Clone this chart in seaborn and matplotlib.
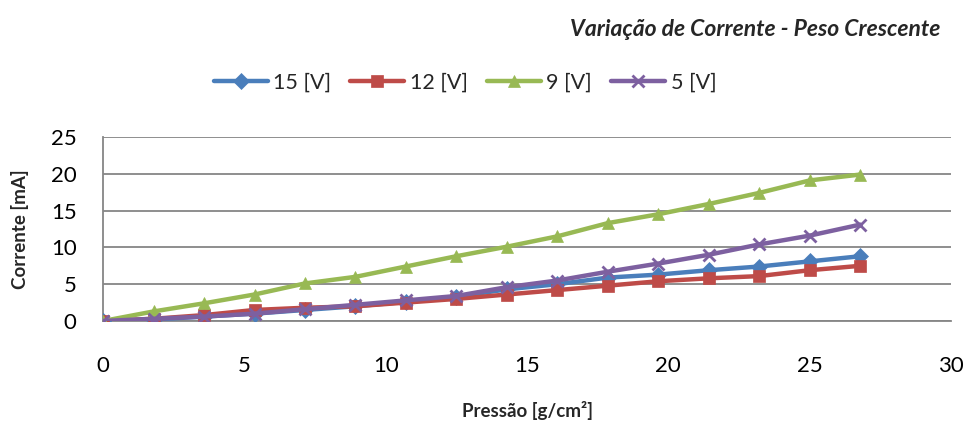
import numpy as np
import pandas as pd
import seaborn as sns
import matplotlib
matplotlib.use("Agg")
import matplotlib.pyplot as plt

pressao = [0, 1.79, 3.57, 5.36, 7.14, 8.93, 10.71, 12.5, 14.29, 16.07, 17.86, 19.64, 21.43, 23.21, 25.0, 26.79]
v15 = [0, 0.2, 0.6, 1.0, 1.5, 2.0, 2.6, 3.3, 4.3, 5.0, 5.9, 6.3, 6.9, 7.4, 8.1, 8.8]
v12 = [0, 0.3, 0.8, 1.5, 1.8, 2.0, 2.5, 3.0, 3.6, 4.2, 4.8, 5.4, 5.8, 6.1, 6.9, 7.5]
v9 = [0, 1.3, 2.4, 3.6, 5.1, 6.0, 7.4, 8.8, 10.1, 11.5, 13.3, 14.5, 15.9, 17.4, 19.1, 19.9]
v5 = [0, 0.3, 0.6, 1.0, 1.6, 2.2, 2.8, 3.4, 4.6, 5.5, 6.7, 7.8, 9.0, 10.4, 11.6, 13.1]

series = ["15 [V]", "12 [V]", "9 [V]", "5 [V]"]
values = [v15, v12, v9, v5]
colors = ["#4A7EBB", "#BE4B48", "#98B954", "#7D60A0"]
markers = ["D", "s", "^", "x"]

title = "Variação de Corrente - Peso Crescente"
xlabel = "Pressão [g/cm²]"
ylabel = "Corrente [mA]"

rows = []
for s, v in zip(series, values):
    for x, y in zip(pressao, v):
        rows.append({"Pressão": x, "Corrente": y, "Série": s})
df = pd.DataFrame(rows)

sns.set_style("white")
plt.rcParams["font.family"] = ["Lato", "DejaVu Sans"]

fig = plt.figure(figsize=(9.68, 4.21), dpi=100)
ax = fig.add_axes([103 / 968, 1 - 321 / 421, (951 - 103) / 968, (321 - 137) / 421])

for s, c, m in zip(series, colors, markers):
    sub = df[df["Série"] == s]
    sns.lineplot(data=sub, x="Pressão", y="Corrente", ax=ax, color=c, marker=m,
                 linewidth=3.2, markersize=8 if m != "x" else 9,
                 markeredgewidth=2 if m == "x" else 0.5, markeredgecolor=c,
                 label=s, zorder=3)

ax.set_xlim(0, 30)
ax.set_ylim(0, 25)
ax.set_xticks(range(0, 31, 5))
ax.set_yticks(range(0, 26, 5))
ax.margins(0)
ax.grid(axis="y", color="#868686", linewidth=1.3)
ax.grid(axis="x", visible=False)
for sp in ["top", "right"]:
    ax.spines[sp].set_visible(False)
for sp in ["left", "bottom"]:
    ax.spines[sp].set_color("#868686")
    ax.spines[sp].set_linewidth(1.3)
ax.tick_params(axis="both", direction="out", length=5, width=1.3, color="#868686",
               labelsize=16, labelcolor="black")
ax.tick_params(axis="x", pad=20)
ax.tick_params(axis="y", pad=14)

ax.set_xlabel(xlabel, fontsize=13.5, fontweight="bold")
ax.set_ylabel(ylabel, fontsize=13.5, fontweight="bold")
ax.xaxis.label.set_va("center")
ax.xaxis.set_label_coords(0.5, (321 - 410) / 184)
ax.yaxis.label.set_va("center")
ax.yaxis.set_label_coords((20 - 103) / 848, 0.5)

fig.text(940 / 968, 1 - 30 / 421, title, ha="right", va="center", fontsize=16.5,
         fontweight="bold", fontstyle="italic")

leg = ax.legend(loc="center", bbox_to_anchor=(465 / 968, 1 - 83 / 421),
                bbox_transform=fig.transFigure, ncol=4, frameon=False,
                fontsize=15.5, handlelength=2.5, columnspacing=0.9, handletextpad=0.25)

fig.savefig("out.png", dpi=100)
